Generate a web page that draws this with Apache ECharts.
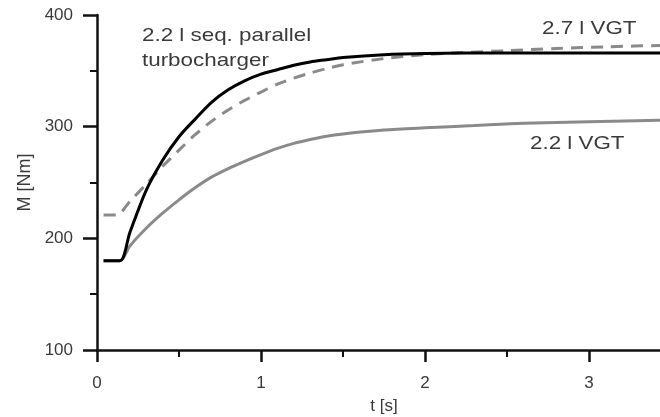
<!DOCTYPE html>
<html>
<head>
<meta charset="utf-8">
<script src="https://cdn.jsdelivr.net/npm/echarts@6/dist/echarts.min.js"></script>
<style>html,body{margin:0;padding:0;background:#fff}#c{width:660px;height:417px}</style>
</head>
<body>
<div id="c"></div>
<script>
// 2.2 l seq. parallel turbocharger (black solid)
const tSeq = [0.04, 0.14, 0.2, 0.3, 0.4, 0.5, 0.6, 0.7, 0.8, 0.9, 1.0, 1.1, 1.2, 1.3, 1.4, 1.5, 1.75, 2.0, 2.5, 3.0, 3.5];
const mSeq = [180, 180, 205, 243, 270, 291, 307, 322, 333, 341, 347, 351, 355, 358, 360, 362, 364.5, 365.5, 366, 366, 366];
// 2.7 l VGT (gray dashed)
const t27 = [0.04, 0.12, 0.2, 0.3, 0.4, 0.5, 0.6, 0.7, 0.8, 0.9, 1.0, 1.1, 1.2, 1.3, 1.4, 1.5, 1.75, 2.0, 2.25, 2.5, 2.8, 3.1, 3.5];
const m27 = [221, 221, 233, 248.5, 264.5, 279, 293, 305, 315, 323.5, 331, 338, 343.5, 348, 352, 355.5, 361, 364.5, 366.5, 368, 370, 371.5, 373];
// 2.2 l VGT (gray solid)
const t22 = [0.04, 0.14, 0.2, 0.3, 0.4, 0.5, 0.6, 0.7, 0.8, 0.9, 1.0, 1.1, 1.2, 1.3, 1.4, 1.5, 1.75, 2.0, 2.3, 2.6, 3.0, 3.5];
const m22 = [180, 180, 193, 209, 222.5, 234.5, 245.5, 255, 262.5, 269, 275, 280.5, 285, 288.5, 291.5, 293.5, 297, 299, 301, 303, 304.5, 306];

const xTicks = [0, 1, 2, 3];
const yTicks = [100, 200, 300, 400];

const pairs = (t, m) => t.map((v, i) => [v, m[i]]);
const font = 'Liberation Sans, Arial, sans-serif';
const txt = '#3a3a3a';

const chart = echarts.init(document.getElementById('c'), null, {renderer: 'canvas'});
chart.setOption({
  animation: false,
  backgroundColor: '#fff',
  grid: {left: 97, top: 15, height: 335, width: 574, containLabel: false, outerBoundsMode: 'none'},
  xAxis: {
    type: 'value', min: 0, max: 3.5, interval: 1,
    name: 't [s]', nameLocation: 'middle', nameGap: 48,
    nameTextStyle: {fontFamily: font, fontSize: 17, color: txt},
    axisLine: {show: true, onZero: false, lineStyle: {color: '#111', width: 2.5}},
    axisTick: {show: true, length: 12, lineStyle: {color: '#111', width: 2.5}},
    minorTick: {show: true, splitNumber: 2, length: 7, lineStyle: {color: '#111', width: 2}},
    splitLine: {show: false},
    axisLabel: {margin: 25, fontFamily: font, fontSize: 17, color: txt,
      formatter: v => xTicks.includes(v) ? String(v) : ''}
  },
  yAxis: {
    type: 'value', min: 100, max: 400, interval: 100,
    name: 'M [Nm]', nameLocation: 'middle', nameGap: 61, nameRotate: 90,
    nameTextStyle: {fontFamily: font, fontSize: 18, color: txt},
    axisLine: {show: true, onZero: false, lineStyle: {color: '#111', width: 2.5}},
    axisTick: {show: true, length: 14, lineStyle: {color: '#111', width: 2.5}},
    minorTick: {show: true, splitNumber: 2, length: 7, lineStyle: {color: '#111', width: 2}},
    splitLine: {show: false},
    axisLabel: {margin: 24, fontFamily: font, fontSize: 17, color: txt,
      formatter: v => yTicks.includes(v) ? String(v) : ''}
  },
  series: [
    {type: 'line', data: pairs(t22, m22), showSymbol: false, smooth: 0.3,
     lineStyle: {color: '#8a8a8a', width: 3}},
    {type: 'line', data: pairs(t27, m27), showSymbol: false, smooth: 0.3,
     lineStyle: {color: '#8a8a8a', width: 3, type: [12, 8]}},
    {type: 'line', data: pairs(tSeq, mSeq), showSymbol: false, smooth: 0.3,
     lineStyle: {color: '#000', width: 3}}
  ],
  graphic: [
    {type: 'text', x: 142, y: 23, scaleX: 1.21, style: {text: '2.2 l seq. parallel\nturbocharger', font: '18.5px ' + font, fill: txt, lineHeight: 25, verticalAlign: 'top'}},
    {type: 'text', x: 542, y: 19, scaleX: 1.21, style: {text: '2.7 l VGT', font: '18.5px ' + font, fill: txt, verticalAlign: 'top'}},
    {type: 'text', x: 530, y: 134, scaleX: 1.21, style: {text: '2.2 l VGT', font: '18.5px ' + font, fill: txt, verticalAlign: 'top'}}
  ]
});
</script>
</body>
</html>
